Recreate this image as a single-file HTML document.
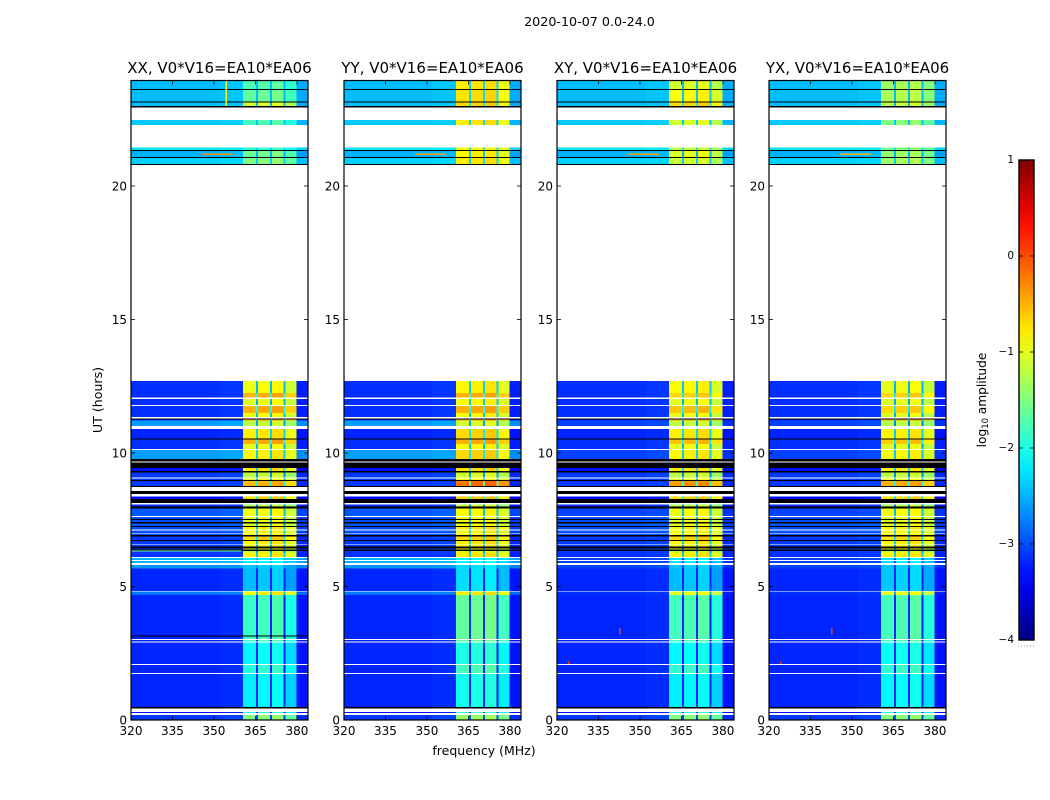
<!DOCTYPE html>
<html lang="en">
<head>
<meta charset="utf-8">
<title>2020-10-07 amplitude waterfall</title>
<style>
html,body{margin:0;padding:0;background:#fff;width:1050px;height:800px;overflow:hidden}
svg{display:block}
text{font-family:"DejaVu Sans","Liberation Sans",sans-serif;fill:#000}
</style>
</head>
<body>
<svg id="chart" xmlns="http://www.w3.org/2000/svg" width="1050" height="800" viewBox="0 0 1050 800">
  <defs><linearGradient id="jetGradient" x1="0" y1="1" x2="0" y2="0"></linearGradient></defs>
  <text x="589.5" y="26" font-size="12.7" text-anchor="middle">2020-10-07 0.0-24.0</text>
  <text transform="translate(102,400) rotate(-90)" font-size="12.6" text-anchor="middle">UT (hours)</text>
  <text x="484" y="755" font-size="12.5" text-anchor="middle">frequency (MHz)</text>
  <g id="panels"></g>
  <g id="colorbar"></g>
  <text transform="translate(986,400) rotate(-90)" font-size="12.2" text-anchor="middle">log<tspan font-size="8.4" dy="2">10</tspan><tspan dy="-2"> amplitude</tspan></text>
</svg>
<script>
const G = null;   // flagged: no data, plotted white
const Z = -9;     // zero amplitude, plotted black

const panelTitles = ["XX, V0*V16=EA10*EA06", "YY, V0*V16=EA10*EA06", "XY, V0*V16=EA10*EA06", "YX, V0*V16=EA10*EA06"];
const xTickLabels = [320, 335, 350, 365, 380];
const yTickLabels = [0, 5, 10, 15, 20];
const colorbarTicks = [1, 0, -1, -2, -3, -4];

// Time band edges in UT hours, top of the plot to the bottom.
const bandEdges = [23.93,23.63,23.6,23.16,23.13,23.0,22.94,22.47,22.28,21.44,21.35,21.31,21.09,21.05,20.82,20.79,12.70,12.25,12.07,12.03,11.80,11.76,11.50,11.34,11.30,11.26,11.21,11.02,10.90,10.55,10.51,10.34,10.15,10.11,9.78,9.68,9.64,9.43,9.33,9.27,9.08,9.04,8.99,8.95,8.76,8.73,8.58,8.46,8.37,8.28,8.12,8.08,7.99,7.93,7.64,7.60,7.53,7.49,7.42,7.36,7.27,7.23,7.14,7.10,7.01,6.98,6.93,6.87,6.74,6.70,6.60,6.57,6.49,6.43,6.39,6.33,6.27,6.10,6.06,5.99,5.96,5.88,5.81,5.68,4.84,4.81,4.68,3.16,3.13,3.03,3.00,2.94,2.90,2.10,2.06,1.76,1.72,0.49,0.43,0.30,0.27,0.19,0];

// Out-of-band log10 amplitude per band: parallel hands, then cross hands.
const offCo = [-2.45,Z,-2.45,Z,-2.45,Z,G,-2.4,G,-2.25,Z,-2.5,Z,-2.35,Z,G,-3.15,-3.15,G,-3.15,G,-3.15,-3.15,G,Z,-3.2,-2.6,G,-3.2,Z,-3.15,-3.15,G,-2.6,Z,G,Z,-3.3,Z,-3.1,G,-3.1,Z,-3.1,Z,G,Z,G,-3.3,Z,G,-3.2,Z,-2.95,G,-3.0,Z,-3.0,Z,-2.95,Z,-3.0,G,-3.0,G,-3.0,Z,-3.1,Z,-3.1,G,-3.1,Z,-3.1,Z,-3.1,-3.15,G,-2.5,G,-2.5,G,-2.65,-3.2,G,-2.8,-3.2,-3.2,-3.2,G,-3.2,G,-3.2,G,-3.2,G,-3.2,Z,G,-3.3,G,-3.1];
const offCross = [-2.45,Z,-2.45,Z,-2.45,Z,G,-2.4,G,-2.25,Z,-2.5,Z,-2.35,Z,G,-3.15,-3.15,G,-3.15,G,-3.15,-3.15,G,Z,-3.2,-3.05,G,-3.2,Z,-3.15,-3.15,G,-3.05,Z,G,Z,-3.3,Z,-3.1,G,-3.1,Z,-3.1,Z,G,Z,G,-3.3,Z,G,-3.2,Z,-3.05,G,-3.0,Z,-3.0,Z,-2.95,Z,-3.0,G,-3.0,G,-3.0,Z,-3.1,Z,-3.1,G,-3.1,Z,-3.1,Z,-3.1,-3.15,G,-3.05,G,-3.05,G,-3.05,-3.2,G,-3.15,-3.2,-3.2,-3.2,G,-3.2,G,-3.2,G,-3.2,G,-3.2,Z,G,-3.3,G,-3.1];

// In-band log10 amplitude per band, one array per polarisation.
const sigXX = [-1.75,0,-1.65,0,-1.1,0,0,-1.8,0,-1.9,0,-1.6,0,-1.5,0,0,-0.95,-0.5,0,-1.0,0,-0.5,-0.95,0,0,-0.4,-1.2,0,-0.8,0,-0.5,-1.0,0,-0.85,0,0,0,-0.8,0,-1.2,0,-1.0,0,-0.55,0,0,0,0,-0.7,0,0,-1.3,0,-0.95,0,-1.0,0,-1.0,0,-1.0,0,-0.85,0,-0.9,0,-0.9,0,-0.7,0,-0.85,0,-0.9,0,-1.0,0,-1.2,-0.85,0,-2.2,0,-2.2,0,-2.4,-2.45,0,-0.85,-1.85,-1.85,-1.85,0,-1.85,0,-2.15,0,-1.95,0,-2.2,0,0,-2.05,0,-1.5];
const sigYY = [-0.8,0,-0.75,0,-0.7,0,0,-0.8,0,-0.9,0,-0.85,0,-0.8,0,0,-0.85,-0.5,0,-0.9,0,-0.5,-0.9,0,0,-0.35,-1.1,0,-0.7,0,-0.5,-0.9,0,-0.7,0,0,0,-0.75,0,-1.1,0,-0.9,0,-0.2,0,0,0,0,-0.65,0,0,-1.2,0,-0.9,0,-0.95,0,-0.95,0,-0.95,0,-0.8,0,-0.85,0,-0.85,0,-0.7,0,-0.8,0,-0.85,0,-0.95,0,-1.1,-0.8,0,-2.15,0,-2.15,0,-2.3,-2.3,0,-0.8,-1.65,-1.65,-1.65,0,-1.65,0,-2.0,0,-1.8,0,-2.05,0,0,-1.95,0,-1.4];
const sigXY = [-1.1,0,-0.9,0,-0.7,0,0,-1.1,0,-1.2,0,-1.05,0,-1.15,0,0,-0.9,-0.7,0,-1.0,0,-0.6,-1.0,0,0,-0.4,-1.2,0,-0.8,0,-0.6,-1.0,0,-0.85,0,0,0,-0.8,0,-1.2,0,-1.0,0,-0.4,0,0,0,0,-0.7,0,0,-1.3,0,-0.95,0,-1.0,0,-1.0,0,-1.0,0,-0.85,0,-0.9,0,-0.9,0,-0.7,0,-0.85,0,-0.9,0,-1.0,0,-1.2,-0.85,0,-2.25,0,-2.25,0,-2.4,-2.45,0,-1.0,-1.8,-1.8,-1.8,0,-1.8,0,-2.15,0,-1.9,0,-2.2,0,0,-2.05,0,-1.5];
const sigYX = [-1.35,0,-1.3,0,-1.2,0,0,-1.5,0,-1.5,0,-1.4,0,-1.35,0,0,-1.0,-0.7,0,-1.05,0,-0.7,-1.05,0,0,-0.45,-1.25,0,-0.85,0,-0.65,-1.05,0,-0.9,0,0,0,-0.85,0,-1.2,0,-1.0,0,-0.5,0,0,0,0,-0.75,0,0,-1.3,0,-0.95,0,-1.0,0,-1.0,0,-1.0,0,-0.85,0,-0.9,0,-0.9,0,-0.75,0,-0.85,0,-0.9,0,-1.0,0,-1.2,-0.85,0,-2.25,0,-2.25,0,-2.4,-2.4,0,-1.0,-1.8,-1.8,-1.8,0,-1.8,0,-2.1,0,-1.9,0,-2.15,0,0,-2.05,0,-1.5];

// Frequency channels: three low segments, four signal blocks split by narrow gaps, one high segment.
const channelEdges = [320,340,352,360.5,365.2,365.9,370.2,370.9,375.1,375.8,379.9,384];
const channelIsSignal = [0,0,0,1,1,1,1,1,1,1,0];
const channelIsGap = [0,0,0,0,1,0,1,0,1,0,0];
const channelOffset = [0,0,0.04,0,-1.5,0.05,-1.5,0.1,-1.5,-0.15,-0.08];

// A single 1 px zero-amplitude row seen only in the XX panel.
const xxZeroBands = [87];

// Narrow interference features: panel, hour top/bottom, frequency low/high, level.
const rfiPanel = [0,1,2,3,0,0,2,3,2,3];
const rfiHourTop = [21.21,21.21,21.21,21.21,6.35,23.93,3.45,3.45,2.2,2.2];
const rfiHourBottom = [21.17,21.17,21.17,21.17,6.31,23.0,3.2,3.2,2.1,2.1];
const rfiFreqLow = [345.7,345.7,345.7,345.7,320,354.2,342.4,342.4,324,324];
const rfiFreqHigh = [356.9,356.9,356.9,356.9,360,354.7,343,343,324.5,324.5];
const rfiLevel = [-0.3,-0.4,-0.4,-0.5,-1.6,-0.9,0.1,0.1,0.1,0.1];

const panelLefts = [131, 344, 557, 769];
const panelWidth = 177;
const plotBottom = 720;
const plotTop = 80.5;
const pxPerHour = 26.7;
const freqMin = 320;
const freqMax = 384;
const barLeft = 1019, barWidth = 15, barTop = 160, barBottom = 640;
const NS = "http://www.w3.org/2000/svg";

function hourToY(h){ return plotBottom - h * pxPerHour; }
function freqToX(left, f){ return left + (f - freqMin) / (freqMax - freqMin) * panelWidth; }
function levelToBarY(v){ return barBottom - (v + 4) / 5 * (barBottom - barTop); }

function jetColor(v){
  if (v <= -8) return "#000";
  const t = Math.max(0, Math.min(1, (v + 4) / 5));
  const clamp = x => Math.round(255 * Math.max(0, Math.min(1, x)));
  const r = Math.min(4 * t - 1.5, -4 * t + 4.5);
  const g = Math.min(4 * t - 0.5, -4 * t + 3.5);
  const b = Math.min(4 * t + 0.5, -4 * t + 2.5);
  return "rgb(" + clamp(r) + "," + clamp(g) + "," + clamp(b) + ")";
}

function el(tag, attrs, parent){
  const n = document.createElementNS(NS, tag);
  for (const k in attrs) n.setAttribute(k, attrs[k]);
  parent.appendChild(n);
  return n;
}

const panelsGroup = document.getElementById("panels");
const sigByPanel = [sigXX, sigYY, sigXY, sigYX];
const offByPanel = [offCo, offCo, offCross, offCross];
const panelNames = ["xx", "yy", "xy", "yx"];

panelLefts.forEach(function(left, p){
  const g = el("g", {}, panelsGroup);
  
  

  const cells = el("g", {"shape-rendering": "crispEdges"}, g);
  
  

  for (let b = 0; b < offByPanel[p].length; b++) {
    let off = offByPanel[p][b];
    if (p === 0 && xxZeroBands.includes(b)) off = Z;
    if (off === G) continue;
    const yA = hourToY(bandEdges[b]);
    const yB = hourToY(bandEdges[b + 1]);
    for (let c = 0; c < channelIsSignal.length; c++) {
      const base = channelIsSignal[c] ? sigByPanel[p][b] : off;
      let value = off === Z ? Z : base + channelOffset[c];
      if (off !== Z && channelIsGap[c]) value = Math.max(value, off);
      const xA = freqToX(left, channelEdges[c]);
      const xB = freqToX(left, channelEdges[c + 1]);
      const cell = el("rect", {x: xA, y: yA, width: xB - xA, height: yB - yA, fill: jetColor(value)}, cells);
      
      
    }
  }

  rfiPanel.forEach(function(owner, i){
    if (owner !== p) return;
    const xA = freqToX(left, rfiFreqLow[i]);
    const xB = freqToX(left, rfiFreqHigh[i]);
    const yA = hourToY(rfiHourTop[i]);
    const yB = hourToY(rfiHourBottom[i]);
    const mark = el("rect", {x: xA, y: yA, width: xB - xA, height: yB - yA, fill: jetColor(rfiLevel[i])}, cells);
    
    
  });

  const frame = el("rect", {x: left, y: plotTop, width: panelWidth, height: plotBottom - plotTop, fill: "none", stroke: "#000", "stroke-width": 1.2}, g);
  
  

  xTickLabels.forEach(function(f){
    const x = freqToX(left, f);
    const tickB = el("line", {x1: x, x2: x, y1: plotBottom, y2: plotBottom - 4, stroke: "#000", "stroke-width": 0.8}, g);
    
    
    const tickT = el("line", {x1: x, x2: x, y1: plotTop, y2: plotTop + 4, stroke: "#000", "stroke-width": 0.8}, g);
    
    
    const label = el("text", {x: x, y: 735, "font-size": 12, "text-anchor": "middle"}, g);
    
    
    label.textContent = f;
  });

  yTickLabels.forEach(function(h){
    const y = hourToY(h);
    const tickL = el("line", {x1: left, x2: left + 4, y1: y, y2: y, stroke: "#000", "stroke-width": 0.8}, g);
    
    
    const tickR = el("line", {x1: left + panelWidth, x2: left + panelWidth - 4, y1: y, y2: y, stroke: "#000", "stroke-width": 0.8}, g);
    
    
    const label = el("text", {x: left - 4, y: y + 4.5, "font-size": 12, "text-anchor": "end"}, g);
    
    
    label.textContent = h;
  });

  const title = el("text", {x: left + panelWidth / 2, y: 73, "font-size": 15, "text-anchor": "middle"}, g);
  
  
  title.textContent = panelTitles[p];
});

// Colorbar
const gradient = document.getElementById("jetGradient");
for (let i = 0; i <= 20; i++) {
  el("stop", {offset: (i * 5) + "%", "stop-color": jetColor(-4 + i / 4)}, gradient);
}
const barGroup = document.getElementById("colorbar");
const bar = el("rect", {x: barLeft, y: barTop, width: barWidth, height: barBottom - barTop, fill: "url(#jetGradient)", stroke: "#000", "stroke-width": 1.4}, barGroup);



colorbarTicks.forEach(function(v){
  const y = levelToBarY(v);
  const tickL = el("line", {x1: barLeft, x2: barLeft + 4, y1: y, y2: y, stroke: "#000", "stroke-width": 0.8}, barGroup);
  
  
  const tickR = el("line", {x1: barLeft + barWidth, x2: barLeft + barWidth - 4, y1: y, y2: y, stroke: "#000", "stroke-width": 0.8}, barGroup);
  
  
  const label = el("text", {x: barLeft - 5, y: y + 3, "font-size": 10.5, "text-anchor": "end"}, barGroup);
  
  
  label.textContent = v < 0 ? "\u2212" + Math.abs(v) : String(v);
});

const dots = el("line", {x1: barLeft - 1, x2: barLeft + barWidth, y1: 646, y2: 646, stroke: "#999", "stroke-width": 1, "stroke-dasharray": "1 2"}, barGroup);


</script>
</body>
</html>
